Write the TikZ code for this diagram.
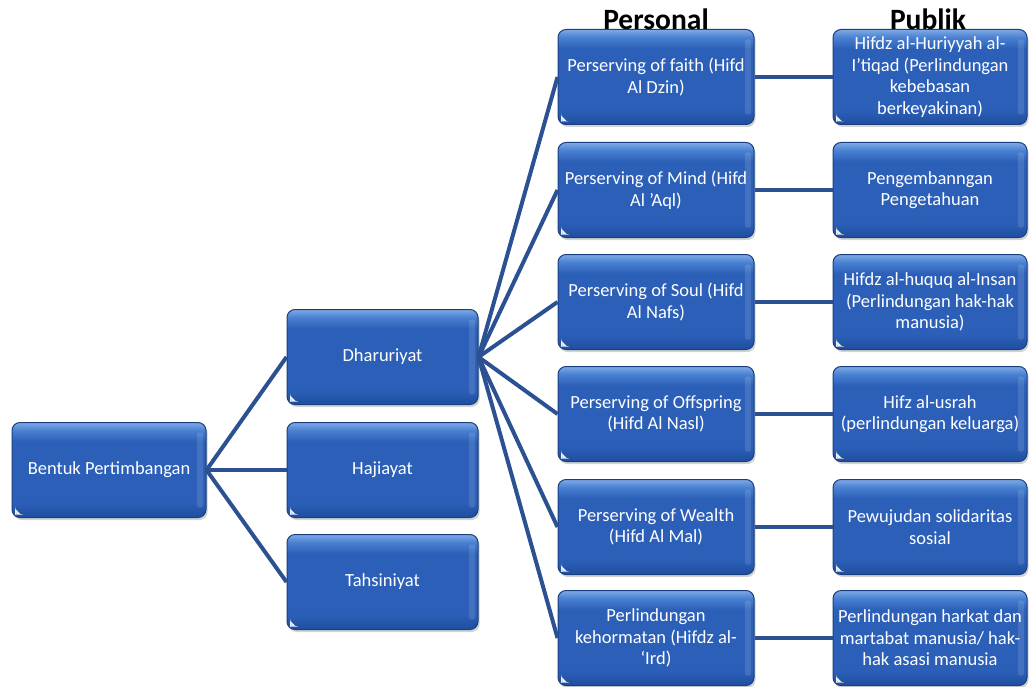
\documentclass[tikz,border=0pt]{standalone}
\usepackage{fontspec}
\setmainfont{Carlito}
\usetikzlibrary{shadows}
\definecolor{bdark}{HTML}{1F4E9E}
\definecolor{bmid}{HTML}{2B5FB8}
\definecolor{blight}{HTML}{4A82D2}
\definecolor{btop}{HTML}{80AAE6}
\definecolor{bborder}{HTML}{1A3F80}
\definecolor{linecol}{HTML}{2B5192}
\pgfdeclareverticalshading{glossy}{100bp}{color(0bp)=(bdark); color(25bp)=(bdark); color(33bp)=(bmid); color(65bp)=(bmid); color(71bp)=(blight); color(75bp)=(btop); color(100bp)=(btop)}
\tikzset{
  box/.style={shade, shading=glossy, draw=bborder, line width=1pt, rounded corners=8pt,
    minimum width=194pt, minimum height=95pt, text=white, align=center,
    font=\fontsize{18.5}{21.5}\selectfont, inner sep=1pt,
    drop shadow={opacity=0.35, shadow xshift=1.5pt, shadow yshift=-2.5pt},
    path picture={
      \fill[white,opacity=0.12,rounded corners=2pt] ([shift={(-9pt,10pt)}]path picture bounding box.south east) rectangle ([shift={(-3pt,-10pt)}]path picture bounding box.north east);
      \fill[white,opacity=0.9] ([shift={(3pt,3pt)}]path picture bounding box.south west) -- ++(0pt,6pt) -- ++(6pt,-6pt) -- cycle;}},
  conn/.style={draw=linecol, line width=4pt},
  header/.style={font=\fontsize{29.5}{31}\bfseries\selectfont, text=black}
}
\begin{document}
\begin{tikzpicture}[x=1pt,y=-1pt]
\useasboundingbox (0,0) rectangle (1030,687);
% level 1
\node[box] (root) at (109,470) {Bentuk Pertimbangan};
% level 2
\node[box, minimum width=191pt] (d) at (382.5,357) {Dharuriyat};
\node[box, minimum width=191pt] (h) at (382.5,470) {Hajiayat};
\node[box, minimum width=191pt] (t) at (382.5,582) {Tahsiniyat};
% level 3
\node[box, minimum width=196pt] (p1) at (656,77) {Perserving of faith (Hifd\\Al Dzin)};
\node[box, minimum width=196pt] (p2) at (656,190) {Perserving of Mind (Hifd\\Al 'Aql)};
\node[box, minimum width=196pt] (p3) at (656,302) {Perserving of Soul (Hifd\\Al Nafs)};
\node[box, minimum width=196pt] (p4) at (656,414) {Perserving of Offspring\\(Hifd Al Nasl)};
\node[box, minimum width=196pt] (p5) at (656,527) {Perserving of Wealth\\(Hifd Al Mal)};
\node[box, minimum width=196pt] (p6) at (656,638) {Perlindungan\\kehormatan (Hifdz al-\\‘Ird)};
% level 4
\node[box] (q1) at (930,77) {Hifdz al-Huriyyah al-\\I’tiqad (Perlindungan\\kebebasan\\berkeyakinan)};
\node[box] (q2) at (930,190) {Pengembanngan\\Pengetahuan};
\node[box] (q3) at (930,302) {Hifdz al-huquq al-Insan\\(Perlindungan hak-hak\\manusia)};
\node[box] (q4) at (930,414) {Hifz al-usrah\\(perlindungan keluarga)};
\node[box] (q5) at (930,527) {Pewujudan solidaritas\\sosial};
\node[box] (q6) at (930,638) {Perlindungan harkat dan\\martabat manusia/ hak-\\hak asasi manusia};
% connectors
\draw[conn] (root.east) -- (d.west);
\draw[conn] (root.east) -- (h.west);
\draw[conn] (root.east) -- (t.west);
\foreach \i in {1,...,6}{
  \draw[conn] (d.east) -- (p\i.west);
  \draw[conn] (p\i.east) -- (q\i.west);
}
% headers
\node[header] (hp) at (656,19) {Personal};
\node[header] (hq) at (928,19) {Publik};
\end{tikzpicture}
\end{document}
